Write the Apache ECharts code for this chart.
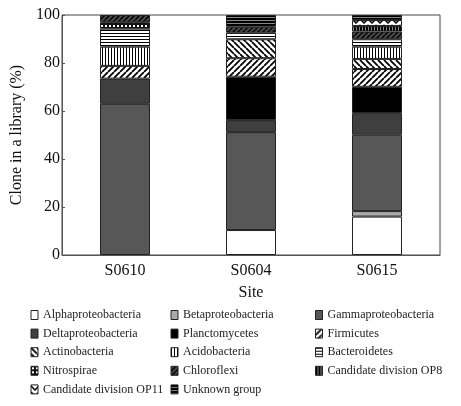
<!DOCTYPE html>
<html><head><meta charset="utf-8">
<script src="https://cdn.jsdelivr.net/npm/echarts@6/dist/echarts.min.js"></script>
<style>html,body{margin:0;padding:0;background:#fff}#c{width:461px;height:406px}</style>
</head><body><div id="c"></div>
<script>
const categories = ['S0610', 'S0604', 'S0615'];
const yTicks = [0, 20, 40, 60, 80, 100];
const taxa = ['Alphaproteobacteria','Betaproteobacteria','Gammaproteobacteria','Deltaproteobacteria','Planctomycetes','Firmicutes','Actinobacteria','Acidobacteria','Bacteroidetes','Nitrospirae','Chloroflexi','Candidate division OP8','Candidate division OP11','Unknown group'];
const alpha   = [0, 10.4, 16];
const beta    = [0, 0, 2.3];
const gamma   = [63, 40.8, 31.8];
const delta   = [10.5, 5, 9];
const planc   = [0, 18.1, 11];
const firm    = [5.3, 7.7, 7.4];
const actino  = [0, 7.9, 4.2];
const acido   = [8, 0, 5.1];
const bact    = [7.5, 2.7, 3.1];
const nitro   = [2.7, 0, 0];
const chloro  = [3, 2.5, 3.2];
const op8     = [0, 0, 2.3];
const op11    = [0, 0, 2.5];
const unknown = [0, 4.9, 2.1];
const values = [alpha, beta, gamma, delta, planc, firm, actino, acido, bact, nitro, chloro, op8, op11, unknown];

function pat(w, h, draw) {
  const c = document.createElement('canvas'); c.width = w; c.height = h;
  const g = c.getContext('2d'); draw(g, w, h);
  return { image: c, repeat: 'repeat' };
}
function fill(g, w, h, col) { g.fillStyle = col; g.fillRect(0, 0, w, h); }
function diag(g, s, dir, lw, col) {
  g.strokeStyle = col; g.lineWidth = lw; g.beginPath();
  for (let k = -s; k <= s; k += s) {
    if (dir > 0) { g.moveTo(k, s); g.lineTo(k + s, 0); }
    else { g.moveTo(k, 0); g.lineTo(k + s, s); }
  }
  g.stroke();
}
const fills = [
  '#ffffff',
  '#aaaaaa',
  '#575757',
  '#3f3f3f',
  '#000000',
  pat(6, 6, (g, w, h) => { fill(g, w, h, '#fff'); diag(g, 6, 1, 1.8, '#000'); }),
  pat(6, 6, (g, w, h) => { fill(g, w, h, '#fff'); diag(g, 6, -1, 1.8, '#000'); }),
  pat(3, 3, (g, w, h) => { fill(g, w, h, '#fff'); g.fillStyle = '#000'; g.fillRect(0, 0, 1, 3); }),
  pat(3, 3, (g, w, h) => { fill(g, w, h, '#fff'); g.fillStyle = '#000'; g.fillRect(0, 0, 3, 1); }),
  pat(4, 4, (g, w, h) => { fill(g, w, h, '#111'); g.fillStyle = '#fff'; g.fillRect(1, 1, 2, 2); }),
  pat(5, 5, (g, w, h) => { fill(g, w, h, '#4a4a4a'); diag(g, 5, 1, 1.5, '#000'); }),
  pat(3, 3, (g, w, h) => { fill(g, w, h, '#888'); g.fillStyle = '#000'; g.fillRect(0, 0, 2, 3); }),
  pat(8, 6, (g, w, h) => { fill(g, w, h, '#fff'); g.strokeStyle = '#000'; g.lineWidth = 1.5; g.beginPath(); g.moveTo(0, 1); g.lineTo(4, 5); g.lineTo(8, 1); g.stroke(); }),
  pat(3, 3, (g, w, h) => { fill(g, w, h, '#888'); g.fillStyle = '#000'; g.fillRect(0, 0, 3, 2); })
];

const font = 'Liberation Serif';
const series = taxa.map((name, i) => ({
  name, type: 'bar', stack: 'all', barWidth: 50,
  data: values[i].map(v => v === 0 ? null : v),
  itemStyle: { color: fills[i], borderColor: '#222', borderWidth: 1 },
  emphasis: { disabled: true }
}));

const cols = [[0, 3, 6, 9, 12], [1, 4, 7, 10, 13], [2, 5, 8, 11]];
const colLeft = [30.5, 170.5, 315];
const legends = cols.map((ids, c) => ({
  orient: 'vertical', left: colLeft[c], top: 308, padding: 0,
  itemWidth: 7, itemHeight: 9, itemGap: 4.6, icon: 'rect',
  itemStyle: { borderColor: '#222', borderWidth: 1 },
  textStyle: { fontFamily: font, fontSize: 12, color: '#222', lineHeight: 14 },
  data: ids.map(i => taxa[i]), selectedMode: false
}));

const chart = echarts.init(document.getElementById('c'), null, { renderer: 'canvas' });
chart.setOption({
  animation: false,
  backgroundColor: '#fff',
  grid: { left: 62, right: 21, top: 15, bottom: 151, show: true, borderColor: '#444', borderWidth: 1 },
  legend: legends,
  xAxis: {
    type: 'category', data: categories,
    name: 'Site', nameLocation: 'middle', nameGap: 30,
    nameTextStyle: { fontFamily: font, fontSize: 16, color: '#111' },
    axisLine: { lineStyle: { color: '#555' } },
    axisTick: { inside: true, length: 4, lineStyle: { color: '#777' } },
    axisLabel: { fontFamily: font, fontSize: 16, color: '#111', margin: 8 }
  },
  yAxis: {
    type: 'value', min: 0, max: 100, interval: 20,
    name: 'Clone in a library (%)', nameLocation: 'middle', nameGap: 31, nameRotate: 90,
    nameTextStyle: { fontFamily: font, fontSize: 16, color: '#111' },
    axisLine: { show: true, lineStyle: { color: '#555' } },
    axisTick: { show: true, inside: true, length: 3, lineStyle: { color: '#555' } },
    splitLine: { show: false },
    axisLabel: { fontFamily: font, fontSize: 16, color: '#111', margin: 2,
      formatter: v => yTicks.includes(v) ? String(v) : '' }
  },
  series
});
</script></body></html>
